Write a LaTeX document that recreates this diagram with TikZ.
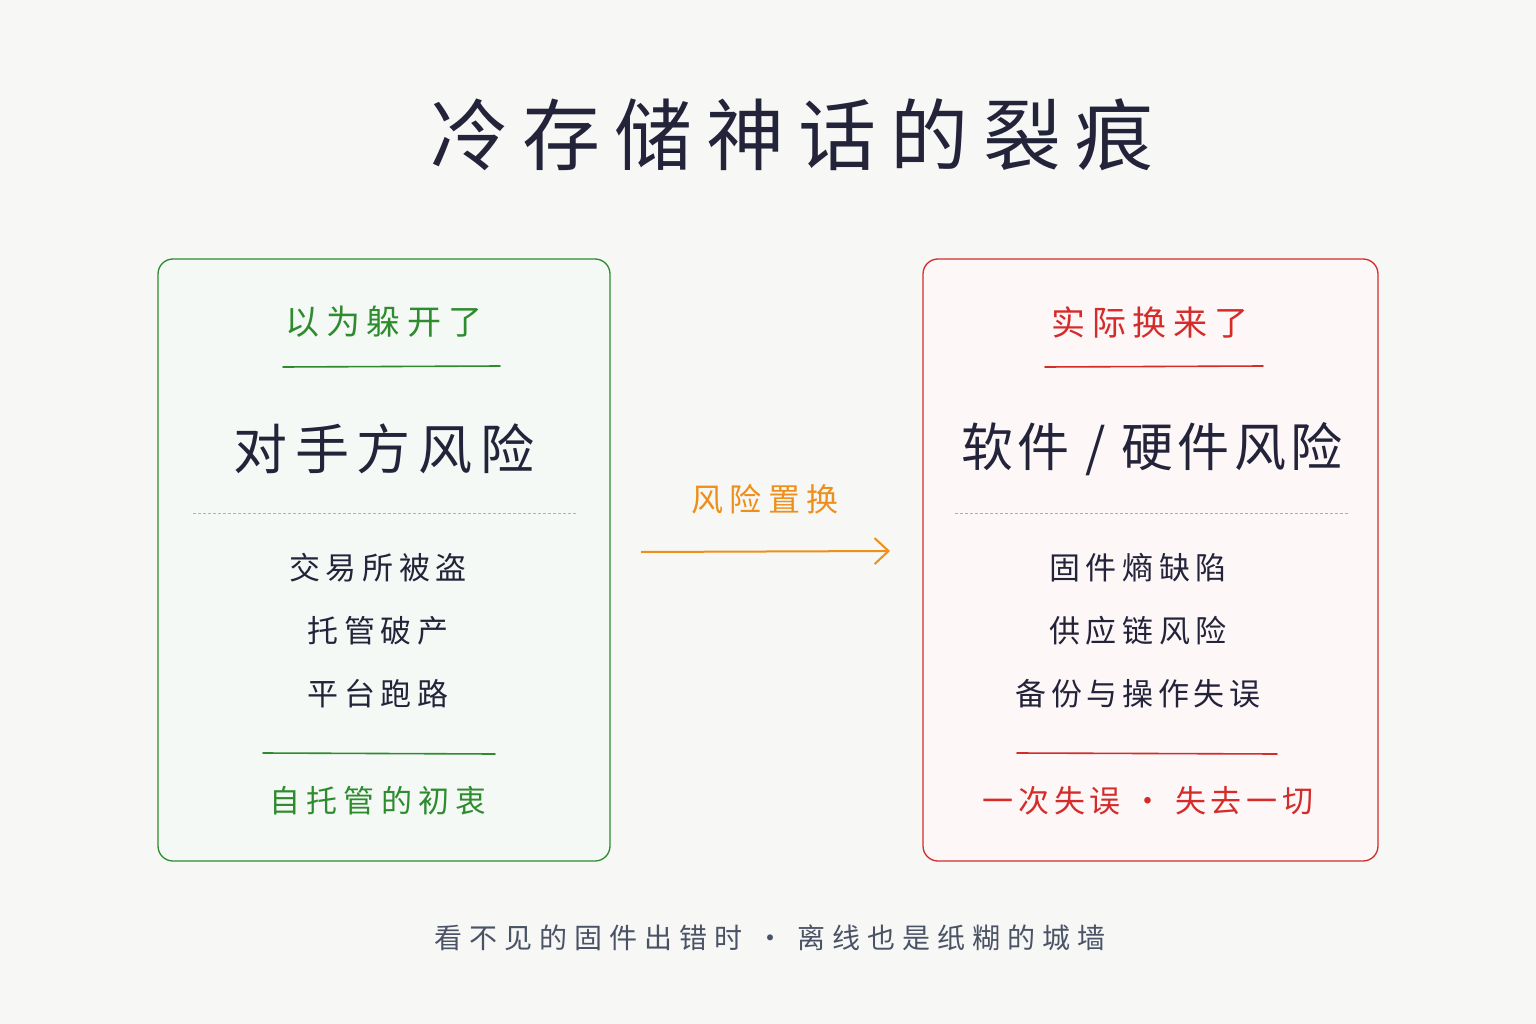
\documentclass[tikz,border=0pt]{standalone}
\usepackage{fontspec}
\newfontfamily\cjk{Noto Sans CJK SC}
\usetikzlibrary{arrows.meta}
\definecolor{bg}{HTML}{F7F7F5}
\definecolor{ink}{HTML}{23233A}
\definecolor{gr}{HTML}{2E8B2E}
\definecolor{rd}{HTML}{D52B2B}
\definecolor{org}{HTML}{EE8F1A}
\definecolor{sub}{HTML}{4A5366}
\begin{document}
\begin{tikzpicture}[x=1pt,y=-1pt,
  t/.style 2 args={font=\cjk\fontsize{#2}{#2}\selectfont\addfontfeature{LetterSpace=#1}, inner sep=0pt, anchor=center},
  card/.style={rounded corners=15pt, line width=1.3pt},
  rule/.style={line width=1.6pt, line cap=round},
  dsh/.style={line width=0.6pt, dash pattern=on 3pt off 2pt}]
\useasboundingbox[fill=bg] (0,0) rectangle (1536,1024);
\node[t={18}{78}, text=ink] (title) at (792,135) {冷存储神话的裂痕};
% left card
\draw[card, draw=gr, fill=gr!5] (158,259) rectangle (610,861);
\node[t={20}{34}, text=gr] (lh) at (384,322) {以为躲开了};
\draw[rule, gr] (283,367) -- (500,366);
\node[t={14}{54}, text=ink] (lm) at (384,449) {对手方风险};
\draw[dsh, gr!50] (193,513) -- (576,513);
\node[t={18}{31}, text=ink] (l1) at (378,568) {交易所被盗};
\node[t={18}{31}, text=ink] (l2) at (378,631) {托管破产};
\node[t={18}{31}, text=ink] (l3) at (378,694) {平台跑路};
\draw[rule, gr] (263,753) -- (495,754);
\node[t={20}{31}, text=gr] (lb) at (378,801) {自托管的初衷};
% right card
\draw[card, draw=rd, fill=rd!4] (923,259) rectangle (1378,861);
\node[t={20}{34}, text=rd] (rh) at (1150,322) {实际换来了};
\draw[rule, rd] (1045,367) -- (1263,366);
\node[t={8}{52}, text=ink] (rm) at (1152,449) {软件 / 硬件风险};
\draw[dsh, rd!50] (955,513) -- (1348,513);
\node[t={18}{31}, text=ink] (r1) at (1138,568) {固件熵缺陷};
\node[t={18}{31}, text=ink] (r2) at (1138,631) {供应链风险};
\node[t={15}{31}, text=ink] (r3) at (1138,694) {备份与操作失误};
\draw[rule, rd] (1017,753) -- (1277,754);
\node[t={15}{31}, text=rd] (rb) at (1148,801) {一次失误 · 失去一切};
% arrow
\coordinate (a1) at (641,552);
\coordinate (a2) at (890,551);
\draw[org, line width=2pt, -{Straight Barb[length=14pt,width=26pt]}] (a1) -- (a2);
\node[t={20}{32}, text=org] (al) at (765,499) {风险置换};
% footer
\node[t={25}{28}, text=sub] (ft) at (770,938) {看不见的固件出错时 · 离线也是纸糊的城墙};
\end{tikzpicture}
\end{document}
